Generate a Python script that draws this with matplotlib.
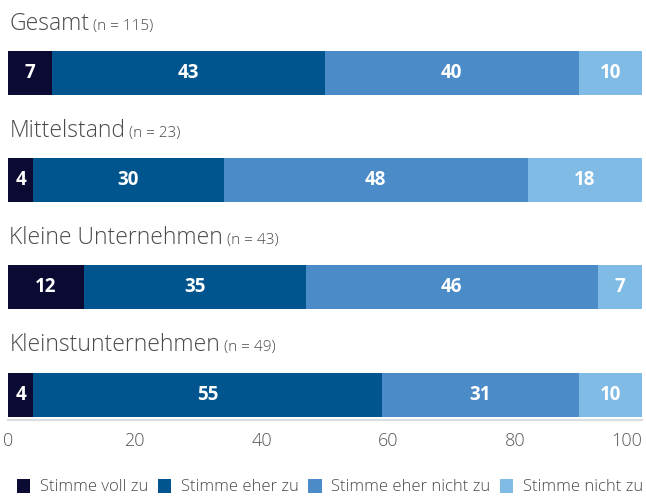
import matplotlib
matplotlib.use("Agg")
import matplotlib.pyplot as plt
from matplotlib.patches import Patch

groups = ["Gesamt", "Mittelstand", "Kleine Unternehmen", "Kleinstunternehmen"]
group_n = [115, 23, 43, 49]
answers = ["Stimme voll zu", "Stimme eher zu", "Stimme eher nicht zu", "Stimme nicht zu"]
# Anteile in Prozent je Gruppe
voll_zu = [7, 4, 12, 4]
eher_zu = [43, 30, 35, 55]
eher_nicht_zu = [40, 48, 46, 31]
nicht_zu = [10, 18, 7, 10]
xticks = [0, 20, 40, 60, 80, 100]

colors = ["#0a0a33", "#00558f", "#4a8bc8", "#80bbe6"]
text_grey = "#4a4a4a"
FONT = "Open Sans"

fig = plt.figure(figsize=(6.46, 4.97), dpi=100)
ax = fig.add_axes([8 / 646, 1 - 420 / 497, 634 / 646, 420 / 497])

series = [voll_zu, eher_zu, eher_nicht_zu, nicht_zu]
ypos = list(range(len(groups)))
left = [0] * len(groups)
for vals, col in zip(series, colors):
    ax.barh(ypos, vals, left=left, height=0.41, color=col, linewidth=0)
    for y, l, v in zip(ypos, left, vals):
        ax.text(l + v / 2, y, str(v), ha="center", va="center", color="white",
                fontsize=13.5, fontweight="bold", family=FONT)
    left = [a + b for a, b in zip(left, vals)]

ax.set_xlim(0, 100)
ax.set_ylim(3.236, -0.681)

# Gruppentitel ueber den Balken
fig.canvas.draw()
renderer = fig.canvas.get_renderer()
for y, name, n in zip(ypos, groups, group_n):
    t = ax.text(0.2, y - 0.405, name, ha="left", va="baseline", fontsize=16.5,
                fontweight="light", color=text_grey, family=FONT)
    bb = t.get_window_extent(renderer)
    x_end = ax.transData.inverted().transform((bb.x1, 0))[0]
    ax.text(x_end + 0.6, y - 0.405, f"(n = {n})", ha="left", va="baseline",
            fontsize=11, fontweight="light", color=text_grey, family=FONT)

for s in ["top", "right", "left"]:
    ax.spines[s].set_visible(False)
ax.spines["bottom"].set_color("#dadde2")
ax.spines["bottom"].set_linewidth(1.6)
ax.set_yticks([])
ax.set_xticks(xticks)
ax.set_xticklabels([str(v) for v in xticks])
ax.tick_params(axis="x", length=0, pad=9, labelsize=13, labelcolor="#555555")
for lab in ax.get_xticklabels():
    lab.set_family(FONT)
    lab.set_fontweight("light")
ax.get_xticklabels()[-1].set_ha("right")

handles = [Patch(facecolor=c, edgecolor="none") for c in colors]
fig.legend(handles, answers, loc="center", bbox_to_anchor=(330 / 646, 1 - 487 / 497),
           ncol=4, frameon=False, handlelength=0.8, handleheight=0.9,
           handletextpad=0.55, columnspacing=0.6, borderpad=0.1,
           prop={"family": FONT, "size": 12, "weight": "light"}, labelcolor=text_grey)

fig.savefig("out.png", dpi=100, facecolor="white")
